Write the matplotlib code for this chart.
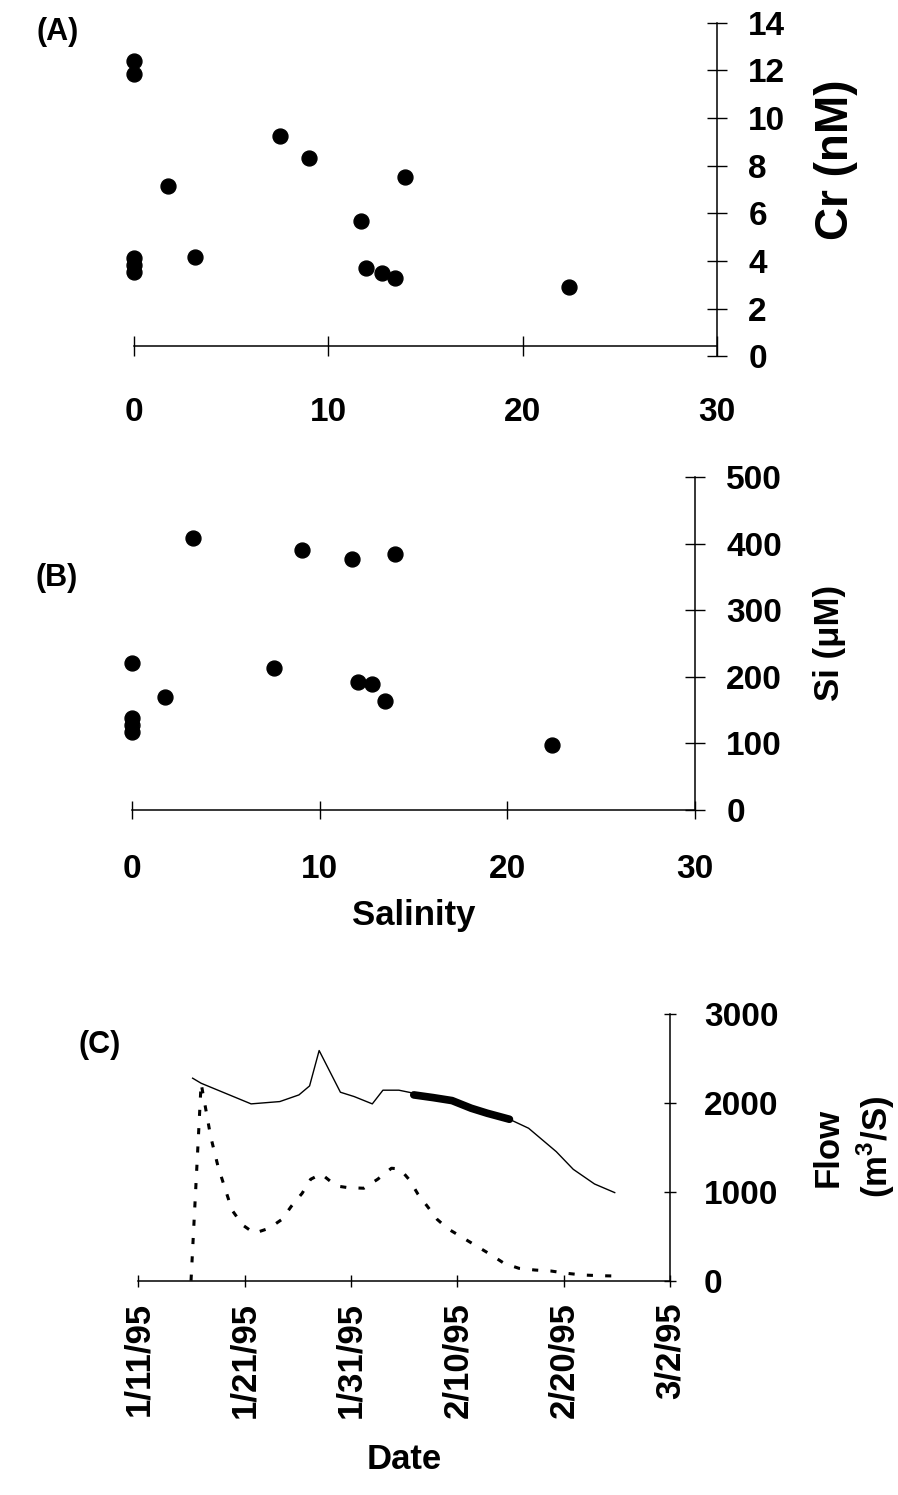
import matplotlib
matplotlib.use("Agg")
import matplotlib.pyplot as plt
import numpy as np

plt.rcParams['font.family'] = ['Liberation Sans', 'DejaVu Sans']
plt.rcParams['font.weight'] = 'bold'
plt.rcParams['mathtext.fontset'] = 'custom'
plt.rcParams['mathtext.rm'] = 'Liberation Sans:bold'
plt.rcParams['mathtext.bf'] = 'Liberation Sans:bold'

# ---------------- data ----------------
# Panel A: Cr vs salinity
salinity_a = [0, 0, 0, 0, 0, 1.73, 3.16, 7.49, 9.02, 11.67, 11.95, 12.76, 13.44, 13.93, 22.36]
cr_nm = [12.39, 11.85, 4.13, 3.84, 3.54, 7.16, 4.15, 9.23, 8.32, 5.69, 3.72, 3.48, 3.27, 7.51, 2.90]

# Panel B: Si vs salinity
salinity_b = [0, 0, 0, 0, 1.77, 3.27, 7.55, 9.06, 11.73, 12.04, 12.81, 13.5, 14.0, 22.4]
si_um = [221, 138, 128, 117, 170, 409, 213, 390, 377, 192, 190, 164, 384, 97]

# Panel C: river flow (days after 1/11/95)
flow_days = [5.1, 5.9, 10.6, 13.3, 15.1, 16.1, 17.0, 19.0, 20.3, 22.0, 23.0, 24.5,
             25.6, 25.9, 27.7, 29.5, 31.3, 32.8, 34.9, 36.7, 39.3, 40.9, 42.9, 44.8]
flow_vals = [2278, 2221, 1989, 2015, 2090, 2191, 2589, 2120, 2071, 1989, 2143, 2143,
             2116, 2090, 2060, 2026, 1940, 1884, 1816, 1715, 1452, 1253, 1088, 991]
sample_start_day = 25.9
sample_end_day = 34.9

flow2_days = [4.95, 5.9, 6.8, 7.5, 8.8, 9.8, 10.9, 12.3, 13.5, 14.4, 15.4, 16.2, 17.2,
              18.6, 19.7, 21.2, 22.5, 23.8, 24.6, 25.5, 26.3, 27.2, 28.1, 29.1, 30.6,
              31.8, 33.2, 34.4, 35.8, 37.3, 38.8, 40.3, 41.8, 43.5, 44.8]
flow2_vals = [0, 2220, 1620, 1280, 795, 627, 534, 590, 690, 840, 983, 1141, 1201,
              1066, 1047, 1040, 1141, 1265, 1257, 1133, 972, 833, 690, 585, 477,
              390, 289, 195, 139, 120, 109, 83, 64, 56, 53]

date_ticks = [0, 10, 20, 30, 40, 50]
date_labels = ['1/11/95', '1/21/95', '1/31/95', '2/10/95', '2/20/95', '3/2/95']

# ---------------- figure ----------------
W, H = 898, 1495
fig = plt.figure(figsize=(W / 100, H / 100), dpi=100)


def rect(left, right, top, bottom):
    return [left / W, 1 - bottom / H, (right - left) / W, (bottom - top) / H]


def ftext(x, y, s, **kw):
    return fig.text(x / W, 1 - y / H, s, ha='center', va='center', fontweight='bold', **kw)


def style(ax):
    for s in ('left', 'top'):
        ax.spines[s].set_visible(False)
    for s in ('right', 'bottom'):
        ax.spines[s].set_linewidth(1.1)
    ax.yaxis.tick_right()
    for lab in ax.get_xticklabels() + ax.get_yticklabels():
        lab.set_fontweight('bold')


TICK_FS = 24

# Panel A
axA = fig.add_axes(rect(134, 717, 22.7, 356.3))
axA.scatter(salinity_a, cr_nm, s=115, color='black', zorder=3, clip_on=False)
axA.set_xlim(0, 30)
axA.set_ylim(0, 14)
axA.set_xticks([0, 10, 20, 30])
axA.set_yticks(range(0, 15, 2))
style(axA)
axA.spines['bottom'].set_position(('data', 0.42))
axA.tick_params(axis='y', direction='inout', length=15, width=1, pad=15, labelsize=TICK_FS)
axA.tick_params(axis='x', direction='inout', length=15, width=1, pad=29, labelsize=TICK_FS)
ftext(836, 160, 'Cr (nM)', fontsize=33, rotation=90)
ftext(58, 32, '(A)', fontsize=22)

# Panel B
axB = fig.add_axes(rect(132, 695, 477.3, 810))
axB.scatter(salinity_b, si_um, s=115, color='black', zorder=3, clip_on=False)
axB.set_xlim(0, 30)
axB.set_ylim(0, 500)
axB.set_xticks([0, 10, 20, 30])
axB.set_yticks(range(0, 501, 100))
style(axB)
axB.tick_params(axis='y', direction='inout', length=15, width=1, pad=15, labelsize=TICK_FS)
axB.tick_params(axis='x', direction='inout', length=13, width=1, pad=25, labelsize=TICK_FS)
ftext(829, 643, 'Si (\u03bcM)', fontsize=25, rotation=90)
axB.set_xlabel('Salinity', fontsize=25, fontweight='bold', labelpad=10)
ftext(57, 578, '(B)', fontsize=22)

# Panel C
axC = fig.add_axes(rect(138.4, 670, 1014, 1280.7))
axC.plot(flow_days, flow_vals, color='black', lw=1.0, zorder=3)
fd = np.array(flow_days)
fv = np.array(flow_vals)
m = (fd >= sample_start_day) & (fd <= sample_end_day)
axC.plot(fd[m], fv[m], color='black', lw=5.5, solid_capstyle='round', zorder=4)
axC.plot(flow2_days, flow2_vals, color='black', lw=2.2, linestyle=(0, (2, 4)), zorder=2)
axC.set_xlim(0, 50)
axC.set_ylim(0, 3000)
axC.set_xticks(date_ticks)
axC.set_xticklabels(date_labels, rotation=90)
axC.set_yticks([0, 1000, 2000, 3000])
style(axC)
axC.tick_params(axis='y', direction='inout', length=9, width=1, pad=20, labelsize=TICK_FS)
axC.tick_params(axis='x', direction='inout', length=9, width=1, pad=11, labelsize=25)
ftext(854, 1147, 'Flow\n(m$^{3}$/S)', fontsize=25, rotation=90, linespacing=1.3,
      multialignment='center')
axC.set_xlabel('Date', fontsize=25, fontweight='bold', labelpad=18)
ftext(100, 1045, '(C)', fontsize=22)

fig.savefig('out.png', dpi=100)
